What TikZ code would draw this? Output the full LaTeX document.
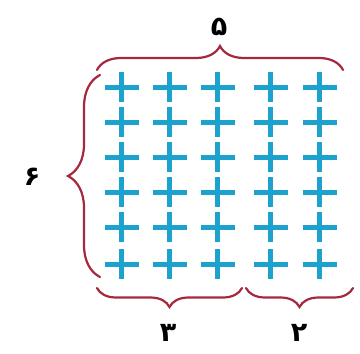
\documentclass[tikz,border=0pt]{standalone}
\usepackage{fontspec}
\newfontfamily\arabicfont[Script=Arabic]{DejaVu Sans}
\TeXXeTstate=1
\usepackage{xcolor}
\definecolor{bracered}{RGB}{165,40,60}
\definecolor{pluscyan}{RGB}{28,162,205}
\usepackage{tikz}
\usetikzlibrary{
    arrows.meta,
    positioning,
    calc,
    decorations.pathreplacing
}

\tikzset{
    plusmark/.style={pluscyan, line width=5pt},
    bracket/.style={bracered, line width=2.2pt, decorate, line cap=round,
        decoration={brace, amplitude=#1}},
    numlabel/.style={font=\arabicfont\bfseries\fontsize{27}{27}\selectfont, text=black, inner sep=0pt}
}

\begin{document}
\begin{tikzpicture}[x=1pt, y=-1pt]
        \useasboundingbox (0,0) rectangle (360,354);
        % grid of plus signs, 5 columns and 6 rows
        \foreach \col/\px in {1/122, 2/170, 3/218, 4/271, 5/320} {
            \foreach \row/\py in {1/87, 2/122, 3/157, 4/192, 5/227, 6/264} {
                \coordinate (p-\row-\col) at (\px,\py);
                \draw[plusmark] ($(p-\row-\col)+(-17,0)$) -- ($(p-\row-\col)+(17,0)$)
                    ($(p-\row-\col)+(0,-15)$) -- ($(p-\row-\col)+(0,15)$);
            }
        }
        % brace ends
        \coordinate (topL) at (97,70);
        \coordinate (topR) at (343,70);
        \coordinate (leftB) at (100,277);
        \coordinate (leftT) at (100,75);
        \coordinate (botAL) at (97,288);
        \coordinate (botAR) at (242,288);
        \coordinate (botBL) at (246,288);
        \coordinate (botBR) at (353,288);
        \draw[bracket=24pt] (topL) -- (topR);
        \draw[bracket=32pt] (leftB) -- (leftT);
        \draw[bracket=19pt] (botAR) -- (botAL);
        \draw[bracket=19pt] (botBR) -- (botBL);
        % labels
        \node[numlabel] (five) at (219,27) {۵};
        \node[numlabel] (six) at (32,177) {۶};
        \node[numlabel] (three) at (168,333) {۳};
        \node[numlabel] (two) at (299,333) {۲};
    \end{tikzpicture}
\end{document}
